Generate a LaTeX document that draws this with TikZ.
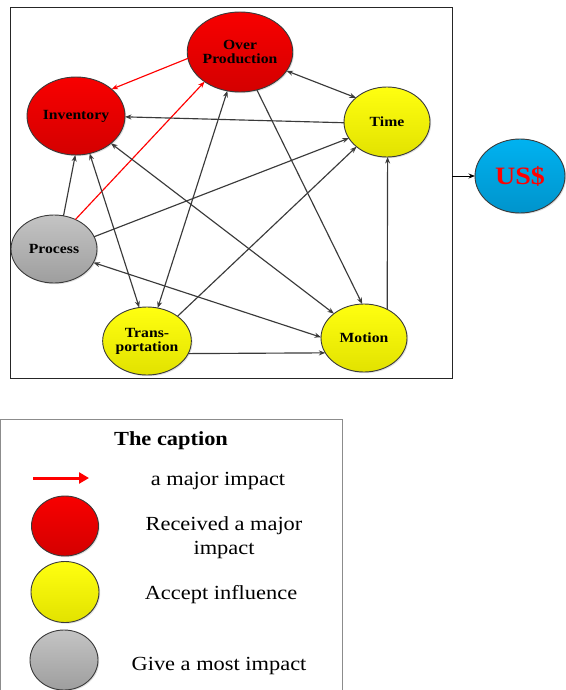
\documentclass[tikz,border=0pt]{standalone}
\usepackage{fontspec}
\setmainfont{Liberation Serif}[FakeStretch=1.12]
\usetikzlibrary{shapes.geometric,arrows.meta,shadows}
\definecolor{edgegray}{HTML}{3A3A3A}
\definecolor{rtop}{HTML}{F80000}
\definecolor{rbot}{HTML}{D40000}
\definecolor{ytop}{HTML}{FFFF10}
\definecolor{ybot}{HTML}{E2E200}
\definecolor{gtop}{HTML}{C4C4C4}
\definecolor{gbot}{HTML}{9E9E9E}
\definecolor{btop}{HTML}{00B2F0}
\definecolor{bbot}{HTML}{0094CC}
\tikzset{
  x=1pt, y=1pt,
  blob/.style={ellipse, draw=edgegray, line width=0.9pt, inner sep=0pt, outer sep=0pt,
    align=center, font=\fontsize{14}{14}\selectfont\bfseries,
    drop shadow={shadow xshift=1.2pt, shadow yshift=-1.2pt, opacity=0.25}},
  redblob/.style={blob, top color=rtop, bottom color=rbot},
  yelblob/.style={blob, top color=ytop, bottom color=ybot},
  grayblob/.style={blob, top color=gtop, bottom color=gbot},
  blueblob/.style={blob, top color=btop, bottom color=bbot},
  conn/.style={draw=edgegray, line width=1.15pt, -{Stealth[length=6.5pt,width=5pt]}},
  bothconn/.style={draw=edgegray, line width=1.15pt, {Stealth[length=6.5pt,width=5pt]}-{Stealth[length=6.5pt,width=5pt]}},
  redconn/.style={draw=red, line width=1.15pt, -{Stealth[length=6.5pt,width=5pt]}},
  legtext/.style={font=\fontsize{20}{24}\selectfont, align=center},
}
\begin{document}
\begin{tikzpicture}
\useasboundingbox (0,0) rectangle (565,-690);
% main frame
\node[draw=black!85, line width=0.9pt, minimum width=442pt, minimum height=371pt, inner sep=0pt, outer sep=0pt] (frame) at (231,-192.5) {};
% nodes
\node[redblob, minimum width=100pt, minimum height=80pt] (op) at (240,-52) {Over\\Production};
\node[redblob, minimum width=98pt, minimum height=78pt] (inv) at (76,-116) {Inventory};
\node[yelblob, minimum width=86pt, minimum height=70pt] (time) at (387,-122) {Time};
\node[grayblob, minimum width=86pt, minimum height=68pt] (proc) at (54,-249) {Process};
\node[yelblob, minimum width=86pt, minimum height=68pt] (trans) at (147,-341) {Trans-\\portation};
\node[yelblob, minimum width=86pt, minimum height=68pt] (mot) at (364,-338) {Motion};
\node[blueblob, minimum width=90pt, minimum height=74pt, text=red, font=\fontsize{25}{25}\selectfont\bfseries] (usd) at (520,-176) {US\$};
% connectors
\draw[redconn] (op.187) -- (inv.37);
\draw[redconn] (proc.54) -- (op.220);
\draw[bothconn] (op.-22) -- (time.142);
\draw[conn] (time.181) -- (inv.-1);
\draw[conn] (proc.74) -- (inv.269);
\draw[bothconn] (inv.-70) -- (trans.103);
\draw[bothconn] (inv.-38) -- (mot.141);
\draw[bothconn] (op.252) -- (trans.72);
\draw[conn] (op.-66) -- (mot.93);
\draw[conn] (proc.17) -- (time.203);
\draw[conn] (trans.39) -- (time.219);
\draw[conn] (mot.51) -- (time.271);
\draw[bothconn] (proc.-19) -- (mot.179);
\draw[conn] (trans.-17) -- (mot.201);
\draw[draw=black, line width=1pt, -{Stealth[length=6.5pt,width=5pt]}] (usd.west -| frame.east) -- (usd.west);
% legend
\node[draw=black!45, line width=0.8pt, minimum width=342pt, minimum height=290pt, inner sep=0pt, outer sep=0pt, anchor=north west] (legend) at (0.5,-419) {};
\node[font=\fontsize{20}{24}\selectfont\bfseries] (captitle) at (171,-441) {The caption};
\coordinate (la) at (33,-478);
\coordinate (lb) at (89,-478);
\draw[draw=red, line width=3pt, -{Triangle[length=10pt,width=11pt]}] (la) -- (lb);
\node[legtext] (t1) at (218,-481) {a major impact};
\node[redblob, minimum width=67pt, minimum height=60pt] (c1) at (65,-526) {};
\node[legtext] (t2) at (224,-538) {Received a major\\impact};
\node[yelblob, minimum width=68pt, minimum height=61pt] (c2) at (65,-592) {};
\node[legtext] (t3) at (221,-595) {Accept influence};
\node[grayblob, minimum width=68pt, minimum height=60pt] (c3) at (64,-660) {};
\node[legtext] (t4) at (219,-666) {Give a most impact};
\end{tikzpicture}
\end{document}
